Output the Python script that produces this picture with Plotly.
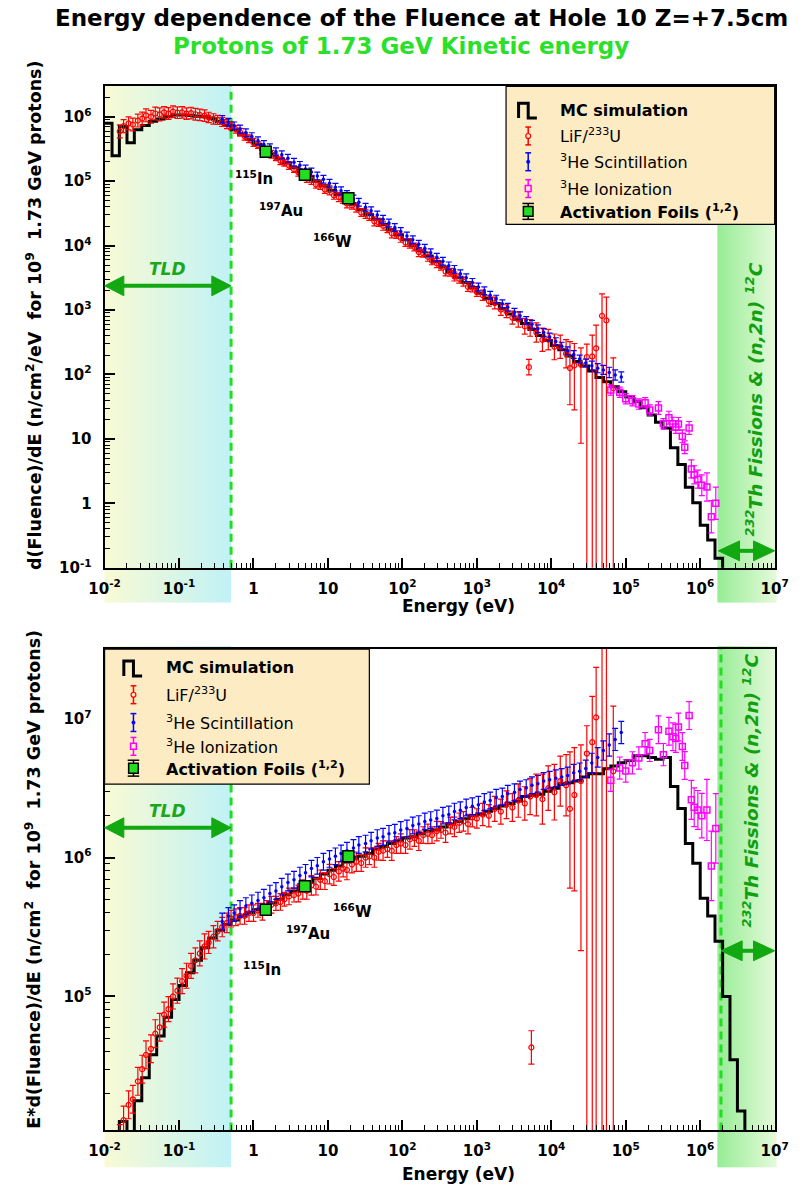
import math
import plotly.graph_objects as go

# ------------------------------------------------------------------ data
# All values are E*dPhi/dE (n/cm^2 for 1e9 protons); the upper panel shows them divided by E.

# MC simulation histogram: 10 log bins per decade starting at 0.01 eV (last bin empty)
mc_bin_mant = [1.0, 1.26, 1.58, 2.0, 2.51, 3.16, 3.98, 5.01, 6.31, 7.94]
mc_EF = [8.9e3, 3.5e3, 1.26e4, 8.9e3, 1.78e4, 2.6e4, 3.8e4, 5.2e4, 7.1e4, 9.5e4,
         1.2e5, 1.48e5, 1.82e5, 2.24e5, 2.63e5, 3.0e5, 3.3e5, 3.55e5, 3.8e5, 4.0e5,
         4.2e5, 4.4e5, 4.7e5, 5.0e5, 5.4e5, 5.75e5, 6.2e5, 6.6e5, 7.1e5, 7.6e5,
         8.1e5, 8.7e5, 9.3e5, 9.8e5, 1.02e6, 1.07e6, 1.15e6, 1.2e6, 1.26e6, 1.32e6,
         1.38e6, 1.41e6, 1.48e6, 1.55e6, 1.58e6, 1.66e6, 1.74e6, 1.82e6, 1.9e6, 2.0e6,
         2.05e6, 2.15e6, 2.25e6, 2.35e6, 2.45e6, 2.55e6, 2.75e6, 2.8e6, 2.85e6, 3.0e6,
         3.15e6, 3.4e6, 3.45e6, 3.55e6, 3.8e6, 4.0e6, 4.0e6, 4.35e6, 4.55e6, 4.8e6,
         5.0e6, 5.4e6, 5.4e6, 5.25e6, 5.1e6, 5.25e6, 3.25e6, 2.25e6, 1.26e6, 9.1e5,
         5.1e5, 3.8e5, 2.5e5, 1.0e5, 3.5e4, 1.5e4, 1.0]

# LiF / 233U
lif_E = [0.016, 0.018, 0.021, 0.024, 0.028, 0.032, 0.036, 0.042, 0.048, 0.055,
         0.063, 0.072, 0.083, 0.095, 0.11, 0.126, 0.145, 0.166, 0.19, 0.22,
         0.25, 0.29, 0.33, 0.38, 0.44, 0.50, 0.58, 0.66, 0.76, 0.87,
         1.0, 1.15, 1.32, 1.51, 1.74, 2.0, 2.3, 2.6, 3.0, 3.5,
         4.0, 4.6, 5.2, 6.0, 6.9, 7.9, 9.1, 10.5, 12, 14,
         16, 18, 21, 24, 28, 32, 36, 42, 48, 55,
         63, 72, 83, 95, 110, 126, 145, 166, 190, 220,
         250, 290, 330, 380, 440, 500, 580, 660, 760, 870,
         1000, 1200, 1450, 1740, 2100, 2500, 3000, 3600, 4400, 5200,
         6300, 7600, 9100, 11000, 13200, 15800]
lif_EF = [9.5e3, 1.29e4, 1.66e4, 1.82e4, 2.45e4, 3.0e4, 3.8e4, 4.2e4, 5.4e4, 6.0e4,
          7.4e4, 8.1e4, 1.0e5, 1.10e5, 1.29e5, 1.41e5, 1.66e5, 1.82e5, 2.04e5, 2.29e5,
          2.45e5, 2.69e5, 2.95e5, 3.16e5, 3.39e5, 3.63e5, 3.72e5, 3.80e5, 3.80e5, 3.98e5,
          3.98e5, 4.17e5, 4.07e5, 4.37e5, 4.57e5, 4.68e5, 4.79e5, 5.01e5, 5.25e5, 5.37e5,
          5.50e5, 5.89e5, 5.75e5, 6.31e5, 6.17e5, 6.92e5, 6.76e5, 7.59e5, 7.24e5, 7.94e5,
          8.32e5, 8.13e5, 8.91e5, 9.33e5, 9.12e5, 1.00e6, 1.02e6, 1.00e6, 1.10e6, 1.12e6,
          1.15e6, 1.12e6, 1.23e6, 1.26e6, 1.23e6, 1.35e6, 1.38e6, 1.32e6, 1.45e6, 1.48e6,
          1.45e6, 1.55e6, 1.58e6, 1.51e6, 1.70e6, 1.66e6, 1.78e6, 1.82e6, 1.74e6, 1.95e6,
          1.91e6, 2.04e6, 2.00e6, 2.24e6, 2.14e6, 2.40e6, 2.29e6, 2.57e6, 2.45e6, 2.75e6,
          2.82e6, 2.63e6, 3.16e6, 2.95e6, 3.55e6, 3.31e6]
lif_err = [0.10, 0.10, 0.10, 0.10, 0.10, 0.10, 0.10, 0.10, 0.10, 0.10,
           0.09, 0.09, 0.09, 0.09, 0.09, 0.09, 0.09, 0.09, 0.09, 0.09,
           0.08, 0.08, 0.07, 0.07, 0.07, 0.06, 0.06, 0.06, 0.06, 0.06,
           0.06, 0.05, 0.06, 0.05, 0.06, 0.05, 0.06, 0.05, 0.06, 0.05,
           0.06, 0.07, 0.06, 0.07, 0.06, 0.07, 0.06, 0.07, 0.06, 0.07,
           0.06, 0.07, 0.06, 0.07, 0.06, 0.07, 0.06, 0.07, 0.06, 0.07,
           0.06, 0.07, 0.06, 0.07, 0.06, 0.07, 0.06, 0.07, 0.06, 0.07,
           0.06, 0.07, 0.06, 0.07, 0.06, 0.07, 0.07, 0.07, 0.07, 0.07,
           0.07, 0.08, 0.08, 0.09, 0.09, 0.10, 0.10, 0.12, 0.12, 0.13,
           0.15, 0.18, 0.16, 0.20, 0.18, 0.22]
# LiF high-energy points with asymmetric errors (decades; >=5 means down to zero)
lifh_E = [17800, 20400, 25000, 30000, 35500, 40000, 48000, 55000, 68000]
lifh_EF = [2.24e6, 2.82e6, 3.55e6, 5.6e6, 6.76e6, 1.02e7, 3.9e7, 3.8e7, 4.17e6]
lifh_up = [0.41, 0.34, 0.26, 0.20, 0.33, 0.36, 0.34, 0.36, 0.47]
lifh_dn = [0.57, 0.69, 1.22, 9, 9, 9, 9, 9, 9]
# isolated LiF points seen in each panel
lif_out_top_E, lif_out_top_F, lif_out_top_err = [5000], [130], [0.12]          # dPhi/dE
lif_out_bot_E, lif_out_bot_EF, lif_out_bot_err = [5400], [4.3e4], [0.12]       # E*dPhi/dE

# 3He scintillation
sci_E = [0.38, 0.46, 0.55, 0.66, 0.79, 0.95, 1.15, 1.38, 1.66, 2.0,
         2.4, 2.9, 3.5, 4.2, 5.0, 6.0, 7.2, 8.7, 10.5, 12.6,
         15, 18, 22, 26, 32, 38, 46, 55, 66, 79,
         95, 115, 138, 166, 200, 240, 290, 350, 420, 500,
         600, 720, 870, 1050, 1260, 1510, 1820, 2200, 2600, 3200,
         3800, 4600, 5500, 6600, 7900, 9500, 11500, 13800, 16600, 20000,
         24000, 29000, 35000, 42000, 50000, 60000, 72000, 87000]
sci_EF = [3.47e5, 3.80e5, 3.98e5, 4.27e5, 4.47e5, 4.68e5, 4.90e5, 5.13e5, 5.50e5, 5.75e5,
          6.17e5, 6.61e5, 6.92e5, 7.41e5, 7.76e5, 8.32e5, 8.71e5, 9.33e5, 9.77e5, 1.02e6,
          1.07e6, 1.12e6, 1.17e6, 1.23e6, 1.26e6, 1.32e6, 1.38e6, 1.41e6, 1.48e6, 1.51e6,
          1.58e6, 1.62e6, 1.70e6, 1.74e6, 1.82e6, 1.86e6, 1.91e6, 2.00e6, 2.04e6, 2.14e6,
          2.19e6, 2.29e6, 2.34e6, 2.40e6, 2.51e6, 2.57e6, 2.69e6, 2.75e6, 2.88e6, 2.95e6,
          3.09e6, 3.16e6, 3.31e6, 3.39e6, 3.55e6, 3.63e6, 3.72e6, 3.80e6, 3.89e6, 4.07e6,
          4.17e6, 4.37e6, 4.79e6, 5.25e6, 5.89e6, 6.46e6, 7.08e6, 7.94e6]
sci_err = [0.06] * 60 + [0.06, 0.06, 0.07, 0.07, 0.07, 0.08, 0.08, 0.08]

# 3He ionization
ion_E = [63000, 83000, 100000, 123000, 150000, 182000, 210000, 275000, 320000, 380000,
         430000, 470000, 510000, 575000, 620000, 710000, 760000, 830000, 930000, 1050000,
         1230000, 1410000, 1620000]
ion_EF = [3.6e6, 4.4e6, 4.2e6, 4.8e6, 5.2e6, 6.6e6, 5.9e6, 8.3e6, 5.5e6, 8.1e6,
          7.4e6, 7.2e6, 8.7e6, 6.3e6, 4.6e6, 1.05e7, 2.6e6, 2.3e6, 2.2e6, 2.0e6,
          2.2e6, 8.7e5, 1.62e6]
ion_err = [0.08, 0.08, 0.08, 0.08, 0.08, 0.08, 0.08, 0.10, 0.08, 0.10,
           0.10, 0.10, 0.10, 0.10, 0.10, 0.10, 0.14, 0.14, 0.14, 0.16,
           0.22, 0.25, 0.25]

# activation foils
foil_E = [1.46, 4.9, 18.8]
foil_EF = [4.2e5, 6.2e5, 1.02e6]
foil_err = [0.03, 0.03, 0.03]
foil_names = ['<sup>115</sup>In', '<sup>197</sup>Au', '<sup>166</sup>W']

# region limits (eV)
tld_limit_E = 0.5
th_band_E = 1.7e6
th_dash_E = 1.9e6

# tick labels
x_tickvals = [1e-2, 1e-1, 1, 10, 1e2, 1e3, 1e4, 1e5, 1e6, 1e7]
x_ticktext = ['10<sup>-2</sup>', '10<sup>-1</sup>', '1', '10', '10<sup>2</sup>', '10<sup>3</sup>',
              '10<sup>4</sup>', '10<sup>5</sup>', '10<sup>6</sup>', '10<sup>7</sup>']
yt_tickvals = [1e-1, 1, 10, 1e2, 1e3, 1e4, 1e5, 1e6]
yt_ticktext = ['10<sup>-1</sup>', '1', '10', '10<sup>2</sup>', '10<sup>3</sup>', '10<sup>4</sup>',
               '10<sup>5</sup>', '10<sup>6</sup>']
yb_tickvals = [1e5, 1e6, 1e7]
yb_ticktext = ['10<sup>5</sup>', '10<sup>6</sup>', '10<sup>7</sup>']

# ------------------------------------------------------------------ layout geometry (px)
W, H = 806, 1196
X0, X1 = 92, 788
T_TOP, T_BOT = 87, 572
B_TOP, B_BOT = 654, 1139
XR = (-2, 7)
YR_T = (-1, 6.473)
YR_B = (4.036, 7.5)

FONT = 'DejaVu Sans, Verdana, sans-serif'
RED, BLUE, MAG = '#FF0000', '#0000FF', '#FF00FF'
GREEN_DASH = '#22DD22'
GREEN_ARROW = '#12A812'


def px(x):
    return x / W


def py(y):
    return 1 - y / H


def xpix(E):
    return X0 + (math.log10(E) - XR[0]) / (XR[1] - XR[0]) * (X1 - X0)


# ------------------------------------------------------------------ traces
fig = go.Figure()

mc_edges = [m * 10.0 ** d for d in range(-2, 7) for m in mc_bin_mant][:len(mc_EF) + 1]


def errs(vals, up, dn):
    plus = [v * (10 ** u - 1) for v, u in zip(vals, up)]
    minus = [v if d >= 5 else v * (1 - 10 ** (-d)) for v, d in zip(vals, dn)]
    return plus, minus


def add_points(E, EF, up, dn, panel, color, symbol, size, lw=1.2, fill=None, ecolor=None,
               ewidth=3, ethick=1.2, already_top=False):
    if panel == 1 and not already_top:
        y = [f / e for f, e in zip(EF, E)]
    else:
        y = list(EF)
    plus, minus = errs(y, up, dn)
    ax = ('x', 'y') if panel == 1 else ('x2', 'y2')
    fig.add_trace(go.Scatter(
        x=E, y=y, mode='markers', xaxis=ax[0], yaxis=ax[1], showlegend=False,
        marker=dict(symbol=symbol, size=size, color=fill or color, line=dict(color=color, width=lw)),
        error_y=dict(type='data', array=plus, arrayminus=minus, symmetric=False,
                     color=ecolor or color, thickness=ethick, width=ewidth)))


for panel in (1, 2):
    ax = ('x', 'y') if panel == 1 else ('x2', 'y2')
    centers = [math.sqrt(a * b) for a, b in zip(mc_edges[:-1], mc_edges[1:])]
    vals = [f / c for f, c in zip(mc_EF, centers)] if panel == 1 else list(mc_EF)
    fig.add_trace(go.Scatter(x=mc_edges, y=vals + [vals[-1]], mode='lines', line_shape='hv',
                             line=dict(color='black', width=3), xaxis=ax[0], yaxis=ax[1],
                             showlegend=False))
    add_points(lif_E, lif_EF, lif_err, lif_err, panel, RED, 'circle-open', 5)
    add_points(lifh_E, lifh_EF, lifh_up, lifh_dn, panel, RED, 'circle-open', 5)
    if panel == 1:
        add_points(lif_out_top_E, lif_out_top_F, lif_out_top_err, lif_out_top_err, 1, RED,
                   'circle-open', 5, already_top=True)
    else:
        add_points(lif_out_bot_E, lif_out_bot_EF, lif_out_bot_err, lif_out_bot_err, 2, RED,
                   'circle-open', 5)
    add_points(sci_E, sci_EF, sci_err, sci_err, panel, BLUE, 'circle', 3.5, lw=0)
    add_points(ion_E, ion_EF, ion_err, ion_err, panel, MAG, 'square-open', 6, lw=1.5)
    add_points(foil_E, foil_EF, foil_err, foil_err, panel, 'black', 'square', 11, lw=1.5,
               fill='#22DD22', ecolor='black', ewidth=6, ethick=1.5)

# ------------------------------------------------------------------ decorations
shapes = []
annos = []


def rect_px(x0, y0, x1, y1, fill, lw=0, lc='black', layer='below'):
    shapes.append(dict(type='rect', xref='paper', yref='paper', x0=px(x0), x1=px(x1),
                       y0=py(y1), y1=py(y0), fillcolor=fill, line=dict(width=lw, color=lc),
                       layer=layer))


def gradient(x0, x1, y0, y1, c0, c1, n=40):
    for i in range(n):
        t = (i + 0.5) / n
        col = 'rgb(%d,%d,%d)' % tuple(round(a + (b - a) * t) for a, b in zip(c0, c1))
        xa = x0 + (x1 - x0) * i / n
        xb = min(x1, x0 + (x1 - x0) * (i + 1) / n + 0.7)
        rect_px(xa, y0, xb, y1, col)


def path_px(points, close=False, fill=None, color='black', width=1, layer='above'):
    d = 'M ' + ' L '.join('%.5f,%.5f' % (px(x), py(y)) for x, y in points)
    if close:
        d += ' Z'
    shapes.append(dict(type='path', xref='paper', yref='paper', path=d,
                       fillcolor=fill or 'rgba(0,0,0,0)', line=dict(color=color, width=width),
                       layer=layer))


def darrow(xa, xb, y, color=GREEN_ARROW, head=20, hh=10, lw=4):
    path_px([(xa + head - 2, y), (xb - head + 2, y)], color=color, width=lw)
    path_px([(xa, y), (xa + head, y - hh), (xa + head, y + hh)], close=True, fill=color,
            color=color, width=1)
    path_px([(xb, y), (xb - head, y - hh), (xb - head, y + hh)], close=True, fill=color,
            color=color, width=1)


def text(x, y, s, size=16, color='black', bold=True, italic=False, anchor='center', angle=0,
         family=FONT):
    annos.append(dict(xref='paper', yref='paper', x=px(x), y=py(y), text=s, showarrow=False,
                      xanchor=anchor, yanchor='middle', textangle=angle,
                      font=dict(family=family, size=size, color=color,
                                weight='bold' if bold else 'normal',
                                style='italic' if italic else 'normal')))


# colour bands (both panels)
LEFT_C0, LEFT_C1 = (249, 250, 212), (192, 242, 246)
RIGHT_C0, RIGHT_C1 = (150, 236, 150), (230, 250, 218)
for top, bot in ((T_TOP - 2, 607), (B_TOP - 3, 1176)):
    gradient(X0, xpix(tld_limit_E), top, bot, LEFT_C0, LEFT_C1)
    gradient(xpix(th_band_E), X1 + 2, top, bot, RIGHT_C0, RIGHT_C1)

# dashed green lines
for xr, yr in (('x', 'y domain'), ('x2', 'y2 domain')):
    shapes.append(dict(type='line', xref=xr, yref=yr, x0=tld_limit_E, x1=tld_limit_E, y0=0, y1=1,
                       line=dict(color=GREEN_DASH, width=3, dash='8px,5px'), layer='below'))
shapes.append(dict(type='line', xref='x2', yref='y2 domain', x0=th_dash_E, x1=th_dash_E, y0=0, y1=1,
                   line=dict(color=GREEN_DASH, width=3, dash='8px,5px'), layer='below'))

# arrows + labels
darrow(X0, xpix(tld_limit_E), 288)
text((X0 + xpix(tld_limit_E)) / 2, 271, 'TLD', size=17, color='#1AA81A', italic=True)
darrow(X0, xpix(tld_limit_E), 834)
text((X0 + xpix(tld_limit_E)) / 2, 817, 'TLD', size=17, color='#1AA81A', italic=True)
darrow(xpix(th_band_E) + 1, X1, 555, head=22, hh=10)
darrow(xpix(th_dash_E), X1, 958, head=22, hh=10)
th_txt = '<sup>232</sup>Th Fissions &amp; (n,2n) <sup>12</sup>C'
text(767, 402, th_txt, size=18.5, color='#12A012', italic=True, angle=-90)
text(763, 797, th_txt, size=18.5, color='#12A012', italic=True, angle=-90)

# isotope labels
for (x, y), s in zip([(247, 179), (275, 212), (329, 243)], foil_names):
    text(x, y, s, size=15)
for (x, y), s in zip([(256, 976), (303, 940), (350, 918)], foil_names):
    text(x, y, s, size=15)

# titles
text(421, 18, 'Energy dependence of the Fluence at Hole 10 Z=+7.5cm', size=23)
text(400, 46, 'Protons of 1.73 GeV Kinetic energy', size=23, color='#2BE02B')
text(460, 611, 'Energy (eV)', size=17)
text(460, 1183, 'Energy (eV)', size=17)
text(18, 318, 'd(Fluence)/dE (n/cm<sup>2</sup>/eV\u00a0\u00a0for 10<sup>9</sup>\u00a0\u00a01.73 GeV protons)',
     size=17.5, angle=-90)
text(18, 886, 'E*d(Fluence)/dE (n/cm<sup>2</sup>\u00a0\u00a0for 10<sup>9</sup>\u00a0\u00a01.73 GeV protons)',
     size=17.5, angle=-90)


# legends
def legend(bx0, by0, bx1, by1, sx, tx, ys):
    rect_px(bx0, by0, bx1, by1, '#FDEBC4', lw=1.2, layer='above')
    y = ys[0]
    path_px([(sx - 10, y + 8), (sx - 10, y - 7), (sx, y - 7), (sx, y + 8), (sx + 9, y + 8)],
            color='black', width=3)
    for y, c, kind in ((ys[1], RED, 'circle'), (ys[2], BLUE, 'dot'), (ys[3], MAG, 'square')):
        path_px([(sx, y - 9), (sx, y + 9)], color=c, width=1.5)
        path_px([(sx - 3, y - 9), (sx + 3, y - 9)], color=c, width=1.5)
        path_px([(sx - 3, y + 9), (sx + 3, y + 9)], color=c, width=1.5)
        if kind == 'circle':
            shapes.append(dict(type='circle', xref='paper', yref='paper', x0=px(sx - 2.5),
                               x1=px(sx + 2.5), y0=py(y + 2.5), y1=py(y - 2.5),
                               fillcolor='#FDEBC4', line=dict(color=c, width=1.2), layer='above'))
        elif kind == 'dot':
            shapes.append(dict(type='circle', xref='paper', yref='paper', x0=px(sx - 1.8),
                               x1=px(sx + 1.8), y0=py(y + 1.8), y1=py(y - 1.8),
                               fillcolor=c, line=dict(color=c, width=0.5), layer='above'))
        else:
            rect_px(sx - 3, y - 3, sx + 3, y + 3, '#FDEBC4', lw=1.5, lc=c, layer='above')
    y = ys[4]
    path_px([(sx, y - 8), (sx, y + 8)], color='black', width=1.5)
    path_px([(sx - 6, y - 8), (sx + 6, y - 8)], color='black', width=1.5)
    path_px([(sx - 6, y + 8), (sx + 6, y + 8)], color='black', width=1.5)
    rect_px(sx - 5, y - 5, sx + 5, y + 5, '#22DD22', lw=1.5, lc='black', layer='above')
    labels = [('MC simulation', True), ('LiF/<sup>233</sup>U', False),
              ('<sup>3</sup>He Scintillation', False), ('<sup>3</sup>He Ionization', False),
              ('Activation Foils (<sup>1,2</sup>)', True)]
    for yy, (s, b) in zip(ys, labels):
        text(tx, yy, s, size=16, bold=b, anchor='left')


legend(509, T_TOP, X1, 226, 532, 563, [111, 137, 163, 190, 213])
legend(X0, B_TOP, 367, 790, 122, 154, [673, 700, 728, 752, 774])

# ------------------------------------------------------------------ axes
tickfont = dict(family=FONT, size=15, color='black', weight='bold')


def log_minor(d0, d1):
    return [m * 10.0 ** d for d in range(d0, d1) for m in range(2, 10)]


def axis(rng, dom, anchor, tv, tt, minor, standoff):
    return dict(type='log', range=list(rng), domain=dom, anchor=anchor,
                tickmode='array', tickvals=tv, ticktext=tt,
                ticks='inside', ticklen=10, tickwidth=1.5, tickcolor='black',
                minor=dict(tickmode='array', tickvals=minor, ticks='inside', ticklen=5,
                           tickwidth=1, tickcolor='black', showgrid=False),
                showline=True, linewidth=2, linecolor='black', mirror=True,
                showgrid=False, zeroline=False, tickfont=tickfont, ticklabelstandoff=standoff)


fig.update_layout(
    width=W, height=H, margin=dict(l=0, r=0, t=0, b=0),
    paper_bgcolor='white', plot_bgcolor='rgba(0,0,0,0)', showlegend=False,
    xaxis=axis(XR, [px(X0), px(X1)], 'y', x_tickvals, x_ticktext, log_minor(-2, 7), 6),
    yaxis=axis(YR_T, [py(T_BOT), py(T_TOP)], 'x', yt_tickvals, yt_ticktext, log_minor(-1, 7), 8),
    xaxis2=axis(XR, [px(X0), px(X1)], 'y2', x_tickvals, x_ticktext, log_minor(-2, 7), 6),
    yaxis2=axis(YR_B, [py(B_BOT), py(B_TOP)], 'x2', yb_tickvals, yb_ticktext, log_minor(4, 8), 8),
    shapes=shapes, annotations=annos,
)

fig.write_html('out.html')
